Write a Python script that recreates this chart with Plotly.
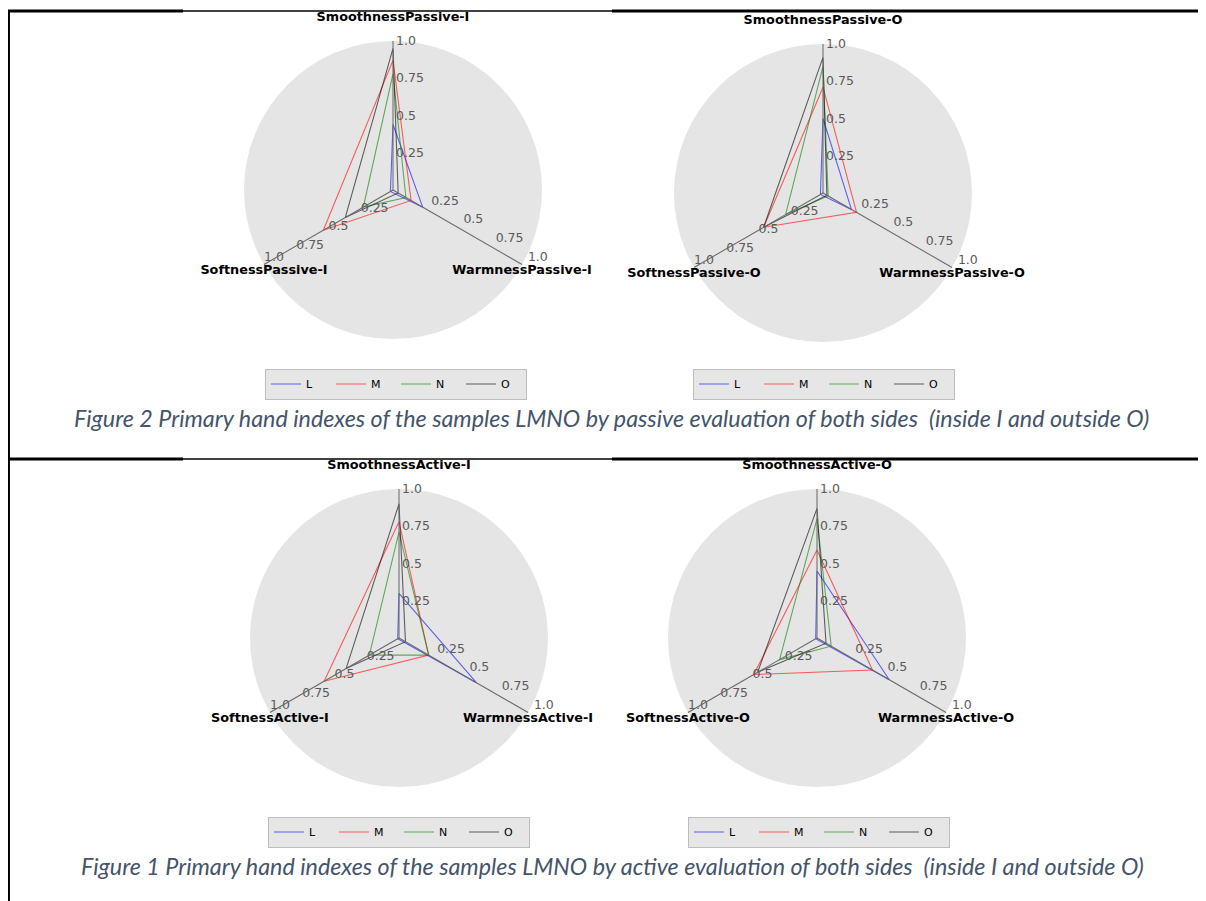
import plotly.graph_objects as go

# page body has an 8px margin: figure is shifted by (8, 8) in the window
OX, OY = 8, 8
W, H = 1198, 893

series_names = ["L", "M", "N", "O"]
series_colors = ["rgba(0,0,255,0.6)", "rgba(255,0,0,0.6)", "rgba(0,128,0,0.6)", "rgba(0,0,0,0.6)"]

cats_passive_i = ["SmoothnessPassive-I", "WarmnessPassive-I", "SoftnessPassive-I"]
cats_passive_o = ["SmoothnessPassive-O", "WarmnessPassive-O", "SoftnessPassive-O"]
cats_active_i = ["SmoothnessActive-I", "WarmnessActive-I", "SoftnessActive-I"]
cats_active_o = ["SmoothnessActive-O", "WarmnessActive-O", "SoftnessActive-O"]

# values in order [Smoothness, Warmness, Softness]
passive_i_L = [0.44, 0.23, 0.02]
passive_i_M = [0.87, 0.14, 0.54]
passive_i_N = [0.78, 0.10, 0.23]
passive_i_O = [0.95, 0.04, 0.37]

passive_o_L = [0.50, 0.22, 0.02]
passive_o_M = [0.71, 0.26, 0.46]
passive_o_N = [0.85, 0.04, 0.29]
passive_o_O = [0.91, 0.03, 0.46]

active_i_L = [0.30, 0.60, 0.01]
active_i_M = [0.78, 0.23, 0.58]
active_i_N = [0.71, 0.23, 0.23]
active_i_O = [0.90, 0.05, 0.41]

active_o_L = [0.45, 0.56, 0.01]
active_o_M = [0.59, 0.43, 0.49]
active_o_N = [0.80, 0.11, 0.29]
active_o_O = [0.87, 0.07, 0.46]

tick_vals = [0.25, 0.5, 0.75, 1.0]
tick_text = ["0.25", "0.5", "0.75", "1.0"]

caption_top = "Figure 2 Primary hand indexes of the samples LMNO by passive evaluation of both sides  (inside I and outside O)"
caption_bottom = "Figure 1 Primary hand indexes of the samples LMNO by active evaluation of both sides  (inside I and outside O)"

panels = [
    dict(cats=cats_passive_i, vals=[passive_i_L, passive_i_M, passive_i_N, passive_i_O], center=(393, 190), legend=(396, 384)),
    dict(cats=cats_passive_o, vals=[passive_o_L, passive_o_M, passive_o_N, passive_o_O], center=(823, 193), legend=(824, 384)),
    dict(cats=cats_active_i, vals=[active_i_L, active_i_M, active_i_N, active_i_O], center=(399, 638), legend=(399, 832)),
    dict(cats=cats_active_o, vals=[active_o_L, active_o_M, active_o_N, active_o_O], center=(817, 638), legend=(819, 832)),
]


def fx(x):
    return (x - OX) / W


def fy(y):
    return 1 - (y - OY) / H


R = 149
fig = go.Figure()
layout = dict(width=W, height=H, margin=dict(l=0, r=0, t=0, b=0),
              paper_bgcolor="white", plot_bgcolor="white", showlegend=True)

tickfont = dict(family="DejaVu Sans", size=12.5, color="#5a5a5a")
# (axis angle, label side, tick label angle to keep text horizontal, axis draws its own labels)
axis_angles = [(90, "clockwise", 90, True), (-30, "counterclockwise", -30, True), (210, "clockwise", -150, False)]

pid = 0
for p_i, p in enumerate(panels):
    cx, cy = p["center"]
    dom = dict(x=[fx(cx - R), fx(cx + R)], y=[fy(cy + R), fy(cy - R)])
    cats = p["cats"]
    legend_name = "legend" if p_i == 0 else f"legend{p_i + 1}"
    for a_i, (ang, side, tang, own_labels) in enumerate(axis_angles):
        pid += 1
        pname = "polar" if pid == 1 else f"polar{pid}"
        main = a_i == 0
        layout[pname] = dict(
            domain=dom,
            bgcolor="#e5e5e5" if main else "rgba(0,0,0,0)",
            radialaxis=dict(range=[0, 1], angle=ang, side=side, showgrid=False, showline=True,
                            linecolor="#666666", linewidth=1, tickvals=tick_vals, ticktext=tick_text,
                            ticks="", tickfont=tickfont, tickangle=tang, showticklabels=own_labels),
            angularaxis=dict(type="category", categoryarray=cats, rotation=90, direction="clockwise",
                             showgrid=False, showline=False, showticklabels=False, ticks="",
                             visible=main),
        )
        if main:
            for name, col, v in zip(series_names, series_colors, p["vals"]):
                fig.add_trace(go.Scatterpolar(
                    r=v + v[:1], theta=cats + cats[:1], mode="lines", name=name,
                    line=dict(color=col, width=1.1), subplot=pname, legend=legend_name))
            labels = [f"<b>{cats[0]}</b><br> ", f"<b>{cats[1]}</b>", f"<b>{cats[2]}</b>"]
            fig.add_trace(go.Scatterpolar(
                r=[1, 1, 1], theta=cats, mode="text", text=labels,
                textposition=["top center", "bottom center", "bottom center"],
                textfont=dict(family="DejaVu Sans", size=12.8, color="black"),
                cliponaxis=False, showlegend=False, hoverinfo="skip", subplot=pname))
        elif not own_labels:
            # tick labels of the lower-left axis, left-aligned on the axis line
            fig.add_trace(go.Scatterpolar(
                r=tick_vals, theta=[cats[2]] * len(tick_vals), mode="text", text=tick_text,
                textposition=["middle right"] * (len(tick_vals) - 1) + ["top right"],
                textfont=tickfont,
                cliponaxis=False, showlegend=False, hoverinfo="skip", subplot=pname))
        else:
            fig.add_trace(go.Scatterpolar(r=[], theta=[], mode="lines", showlegend=False,
                                          hoverinfo="skip", subplot=pname))
    lx, ly = p["legend"]
    layout[legend_name] = dict(
        orientation="h", x=fx(lx), y=fy(ly), xanchor="center", yanchor="middle",
        bgcolor="#e6e6e6", bordercolor="#bdbdbd", borderwidth=1,
        font=dict(family="DejaVu Sans", size=11, color="black"),
        itemwidth=30, entrywidth=20, tracegroupgap=0,
    )

caption_font = dict(family="Lato", size=23.3, color="#44546A", style="italic")
layout["annotations"] = [
    dict(text=f"<i>{caption_top}</i>", x=fx(611), y=fy(418), xref="paper", yref="paper",
         showarrow=False, font=caption_font, xanchor="center", yanchor="middle"),
    dict(text=f"<i>{caption_bottom}</i>", x=fx(612), y=fy(866), xref="paper", yref="paper",
         showarrow=False, font=caption_font, xanchor="center", yanchor="middle"),
]

shapes = []


def hline(y, x0, x1, w):
    shapes.append(dict(type="line", xref="paper", yref="paper", x0=max(fx(x0), 0), x1=fx(x1),
                       y0=fy(y), y1=fy(y), line=dict(color="black", width=w)))


for y in (11, 459):
    hline(y, 8, 183, 3)
    hline(y, 183, 612, 1.5)
    hline(y, 612, 1206, 3)
shapes.append(dict(type="line", xref="paper", yref="paper", x0=0.0008, x1=0.0008, y0=0, y1=fy(10),
                   line=dict(color="black", width=2)))
layout["shapes"] = shapes

fig.update_layout(**layout)
fig.write_html("out.html")
